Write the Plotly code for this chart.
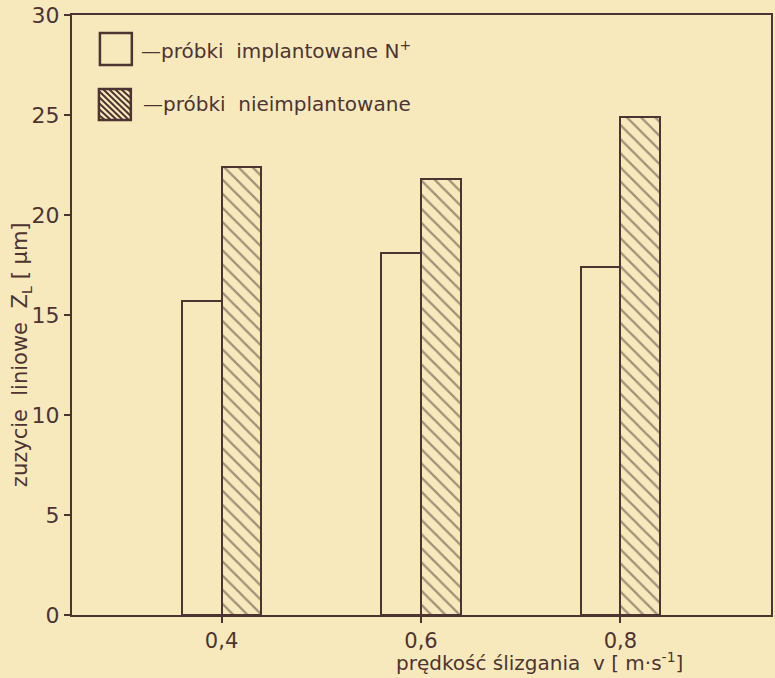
import plotly.graph_objects as go

velocities = [0.4, 0.6, 0.8]
implanted = [15.7, 18.1, 17.4]
non_implanted = [22.4, 21.8, 24.9]
y_ticks = [0, 5, 10, 15, 20, 25, 30]
x_ticks = [0.4, 0.6, 0.8]
x_tick_labels = ["0,4", "0,6", "0,8"]
legend_labels = ["\u2014próbki  implantowane N<sup>+</sup>", "\u2014próbki  nieimplantowane"]

BG = "#f8e9bd"
INK = "#4e3431"
FONT = "DejaVu Sans"

W, H = 775, 678
PL, PR, PT, PB = 72, 773, 15, 615  # plot area in page pixels


def px(xp):
    return (xp - PL) / (PR - PL)


def py(yp):
    return (PB - yp) / (PB - PT)


fig = go.Figure()
fig.add_trace(go.Bar(
    x=velocities, y=implanted, offset=-0.04, width=0.04,
    name=legend_labels[0], showlegend=False,
    marker=dict(color=BG, line=dict(color=INK, width=2)),
))
fig.add_trace(go.Bar(
    x=velocities, y=non_implanted, offset=0.0, width=0.04,
    name=legend_labels[1], showlegend=False,
    marker=dict(color=BG, line=dict(color=INK, width=2),
                pattern=dict(shape="\\", size=10, solidity=0.22,
                             fgcolor=INK, bgcolor=BG, fillmode="overlay")),
))

fig.update_layout(
    width=W, height=H,
    margin=dict(l=PL, r=W - PR, t=PT, b=H - PB),
    paper_bgcolor=BG, plot_bgcolor=BG,
    font=dict(family=FONT, color=INK, size=20),
    showlegend=False,
    bargap=0,
)
fig.update_xaxes(
    range=[0.25, 0.951], tickvals=x_ticks, ticktext=x_tick_labels,
    showline=True, linecolor=INK, linewidth=2, mirror=True,
    ticks="outside", ticklen=6, tickcolor=INK, tickwidth=2,
    showgrid=False, zeroline=False, tickfont=dict(size=21, color=INK),
)
fig.update_yaxes(
    range=[0, 30], tickvals=y_ticks,
    showline=True, linecolor=INK, linewidth=2, mirror=True,
    ticks="outside", ticklen=6, tickcolor=INK, tickwidth=2,
    showgrid=False, zeroline=False, tickfont=dict(size=22, color=INK),
)

# manual legend (large boxes as in the reference)
boxes = [(100, 33, 132, 65), (99, 89, 131, 120)]
for (x0, y0, x1, y1) in boxes:
    fig.add_shape(type="rect", xref="paper", yref="paper",
                  x0=px(x0), x1=px(x1), y0=py(y1), y1=py(y0),
                  line=dict(color=INK, width=2.5), fillcolor=BG)
x0, y0, x1, y1 = boxes[1]
w = x1 - x0
step = 6
segs = []
for k in range(-w + step, w, step):
    sx, sy = x0 + k, y0
    ex, ey = x0 + k + w, y1
    if sx < x0:
        sy = y0 + (x0 - sx)
        sx = x0
    if ex > x1:
        ey = y1 - (ex - x1)
        ex = x1
    segs.append(f"M{px(sx)},{py(sy)} L{px(ex)},{py(ey)}")
fig.add_shape(type="path", xref="paper", yref="paper", path=" ".join(segs),
              line=dict(color=INK, width=2))

text_pos = [(139, 50), (141, 104)]
for lbl, (tx, ty) in zip(legend_labels, text_pos):
    fig.add_annotation(xref="paper", yref="paper", x=px(tx), y=py(ty),
                       xanchor="left", yanchor="middle", showarrow=False,
                       text=lbl, font=dict(size=20, color=INK))

fig.add_annotation(
    xref="paper", yref="paper", x=px(541), y=py(662),
    xanchor="center", yanchor="middle", showarrow=False,
    text="prędkość ślizgania  v [ m·s<sup>-1</sup>]", font=dict(size=20, color=INK),
)
fig.add_annotation(
    xref="paper", yref="paper", x=px(21), y=py(355),
    xanchor="center", yanchor="middle", showarrow=False, textangle=-90,
    text="zuzycie  liniowe  Z<sub>L</sub> [ μm]", font=dict(size=21, color=INK),
)
fig.write_html(
    "out.html",
    config={"displayModeBar": False},
    post_script=(
        "document.documentElement.style.margin='0';"
        "document.body.style.margin='0';"
        "document.body.style.overflow='hidden';"
        "document.body.style.background='" + BG + "';"
    ),
)
